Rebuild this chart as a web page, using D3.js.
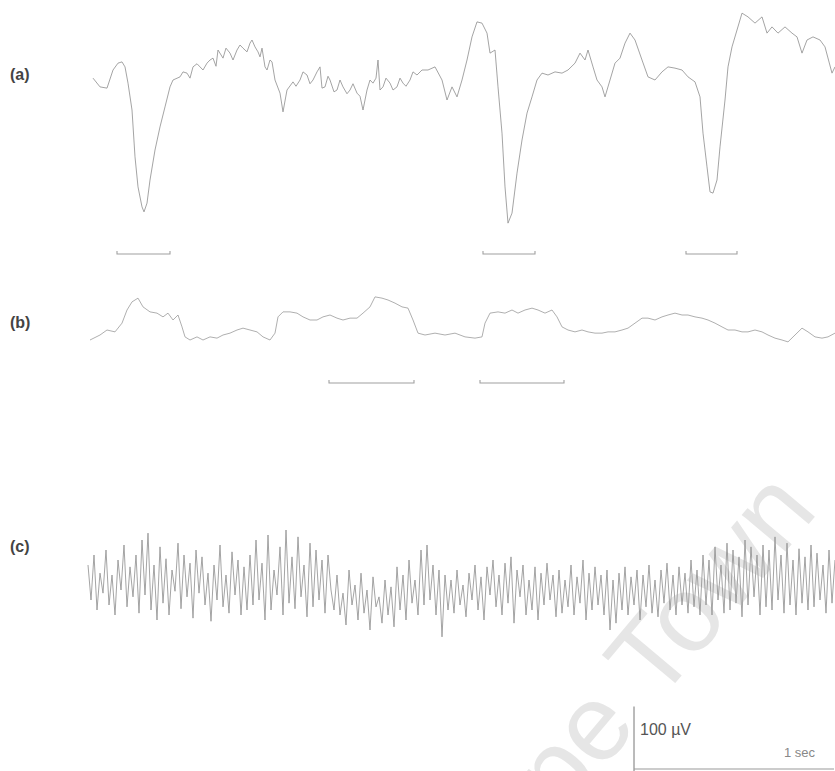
<!DOCTYPE html>
<html><head><meta charset="utf-8">
<script src="https://cdn.jsdelivr.net/npm/d3@7"></script>
<style>html,body{margin:0;padding:0;background:#fff;}svg{display:block;}</style>
</head><body>
<script>
// ---- Data (time in ms, amplitude in µV) ----
const panelLabels = ["(a)", "(b)", "(c)"];

const traceA = [
[25,3],[60,-11],[95,-13],[125,16],[150,27],[170,29],[185,21],[200,-5],[220,-48],[235,-123],[250,-171],[270,-203],[280,-211],[295,-197],[310,-160],[335,-112],[360,-75],[385,-43],[410,-11],[425,0],[460,5],[475,13],[495,11],[510,3],[525,21],[545,26],[560,21],[575,16],[595,27],[610,32],[625,35],[640,22],[650,48],[675,35],[690,51],[710,43],[725,32],[745,48],[760,56],[775,51],[795,45],[810,59],[820,64],[835,53],[850,45],[860,37],[870,51],[885,21],[895,16],[910,32],[920,29],[935,0],[960,-21],[975,-51],[995,-16],[1025,-3],[1040,-10],[1060,0],[1075,13],[1095,8],[1110,-6],[1125,0],[1145,13],[1160,21],[1170,-13],[1185,-11],[1200,6],[1210,0],[1230,-19],[1245,-16],[1260,0],[1275,-11],[1295,-22],[1310,-16],[1325,-6],[1345,-21],[1360,-26],[1375,-48],[1395,-16],[1410,0],[1425,-5],[1440,3],[1450,32],[1460,-16],[1475,-11],[1490,3],[1510,-5],[1525,-16],[1545,-11],[1560,3],[1575,-5],[1590,-10],[1610,0],[1625,13],[1645,8],[1670,16],[1700,16],[1735,21],[1770,0],[1795,-32],[1820,-11],[1845,-27],[1870,0],[1895,32],[1920,69],[1945,93],[1970,91],[1995,75],[2010,43],[2035,48],[2050,-11],[2070,-85],[2085,-171],[2100,-229],[2120,-213],[2145,-149],[2170,-96],[2195,-53],[2220,-27],[2245,0],[2270,11],[2300,8],[2335,13],[2370,11],[2400,16],[2435,27],[2460,43],[2485,32],[2500,48],[2525,21],[2545,0],[2570,-11],[2585,-27],[2610,0],[2635,27],[2660,35],[2685,59],[2710,75],[2735,64],[2770,32],[2800,5],[2835,0],[2870,13],[2900,21],[2935,19],[2970,16],[3000,5],[3035,-3],[3060,-27],[3075,-85],[3095,-139],[3110,-179],[3125,-181],[3145,-160],[3160,-107],[3185,-32],[3200,21],[3220,53],[3245,80],[3270,107],[3300,101],[3335,91],[3370,101],[3395,75],[3420,85],[3450,75],[3485,85],[3520,75],[3545,69],[3570,43],[3595,64],[3625,69],[3660,64],[3685,53],[3720,11],[3735,21]
];

const traceB = [
[10,-24],[60,-16],[95,-8],[135,-11],[170,3],[195,24],[220,37],[250,43],[275,29],[310,21],[345,19],[375,13],[400,19],[425,8],[450,16],[470,-3],[485,-19],[510,-24],[545,-19],[575,-24],[610,-19],[645,-21],[675,-16],[710,-13],[745,-8],[775,-5],[810,-8],[845,-11],[875,-19],[910,-24],[935,-13],[950,13],[975,21],[1010,21],[1045,19],[1075,13],[1110,8],[1145,8],[1175,13],[1210,16],[1245,11],[1275,8],[1310,11],[1345,11],[1375,19],[1410,29],[1435,45],[1470,43],[1500,40],[1535,35],[1570,29],[1600,27],[1625,8],[1650,-13],[1685,-16],[1735,-13],[1785,-16],[1835,-13],[1885,-19],[1935,-21],[1970,-19],[1985,3],[2010,19],[2050,21],[2085,19],[2120,24],[2150,19],[2185,24],[2220,27],[2250,24],[2285,19],[2320,24],[2345,13],[2370,-3],[2400,-8],[2435,-11],[2470,-8],[2500,-11],[2535,-13],[2570,-13],[2600,-11],[2635,-11],[2670,-8],[2700,-5],[2735,3],[2770,11],[2800,11],[2835,8],[2870,13],[2900,16],[2935,19],[2970,16],[3000,16],[3035,13],[3070,11],[3100,8],[3135,3],[3170,-3],[3200,-8],[3235,-8],[3270,-11],[3300,-11],[3335,-8],[3370,-11],[3400,-16],[3435,-21],[3470,-24],[3500,-27],[3535,-16],[3570,-5],[3600,-11],[3635,-19],[3670,-21],[3700,-19],[3735,-13]
];

// trace (c): sampled every 15 ms starting at 0 ms
const stepC = 15;
const traceC = [
32,-24,48,-40,19,-13,56,-32,16,-48,40,-8,64,-35,29,-19,48,-45,72,-16,83,-40,32,-56,
61,-29,42,-48,24,-10,67,-38,48,-19,35,-53,56,-13,45,-32,19,-58,32,-24,64,-35,16,-45,53,-16,40,-48,29,-40,
48,-32,72,-24,35,-56,80,-40,24,-16,61,-48,88,-29,45,-38,77,-19,32,-51,67,-35,56,-24,40,-45,48,
-8,-40,16,-48,-13,-64,24,-32,0,-56,19,-45,-8,-72,13,-35,-19,-61,8,-48,-3,-67,29,-40,16,-56,40,-29,8,-48,
56,-32,64,-24,32,-48,24,-83,16,-40,
8,-45,24,-32,0,-51,19,-24,32,-40,13,-56,29,-16,40,-35,16,-48,35,-29,45,-61,24,-19,32,-48,8,-40,29,-56,19,-32,35,-24,16,-51,24,-45,8,-35,32,-48,13,-29,40,-56,19,-40,29,-32,
16,-48,24,-72,8,-61,19,-40,29,-48,13,-32,24,-56,16,-35,32,-45,8,-51,24,-29,35,-40,16,-48,29,-32,19,-45,40,-35,24,-48,
48,-32,40,-48,61,-24,32,-45,67,-40,56,-29,45,-51,72,-32,61,-19,48,-48,64,-35,56,-40,77,-24,48,-45,67,-32,40,-48,58,-29,45,-40,64,-35,51,-24,32,-45,56,-29,40
];

// event markers [start ms, end ms]
const markersA = [[145,410],[1975,2235],[2990,3245]];
const markersB = [[1205,1630],[1960,2380]];

// calibration
const calAmp = 100;   // µV
const calTime = 1000; // ms
const calStart = 2730; // ms

// ---- Layout ----
const W = 835, H = 771;
const svg = d3.select("body").append("svg").attr("width", W).attr("height", H);

const x = d3.scaleLinear().domain([0, 3735]).range([88, 835]);
const k = 0.625; // px per µV
const yFor = base => d3.scaleLinear().domain([-100, 100]).range([base + 100 * k, base - 100 * k]);
const yA = yFor(80), yB = yFor(325), yC = yFor(585);

// watermark
svg.append("text")
  .attr("transform", "translate(562,818) rotate(-50)")
  .attr("font-family", "Liberation Sans, Arial, sans-serif")
  .attr("font-size", 108)
  .attr("fill", "#e6e6e6")
  .text("pe Town");

const lineGen = (ys) => d3.line().x(d => x(d[0])).y(d => ys(d[1]));

svg.append("path").datum(traceA).attr("d", lineGen(yA))
  .attr("fill", "none").attr("stroke", "#939393").attr("stroke-width", 0.85);
svg.append("path").datum(traceB).attr("d", lineGen(yB))
  .attr("fill", "none").attr("stroke", "#a0a0a0").attr("stroke-width", 0.85);
svg.append("path").datum(traceC.map((v, i) => [i * stepC, v])).attr("d", lineGen(yC))
  .attr("fill", "none").attr("stroke", "#949494").attr("stroke-width", 0.85);

// markers
function markers(data, yPos) {
  data.forEach(m => {
    const x0 = x(m[0]), x1 = x(m[1]);
    svg.append("path")
      .attr("d", `M${x0},${yPos - 3}L${x0},${yPos}L${x1},${yPos}L${x1},${yPos - 3}`)
      .attr("fill", "none").attr("stroke", "#a0a0a0").attr("stroke-width", 1.1);
  });
}
markers(markersA, 254);
markers(markersB, 383);

// labels
const labelY = [80, 328, 552];
panelLabels.forEach((t, i) => {
  svg.append("text").attr("x", 10).attr("y", labelY[i])
    .attr("font-family", "Liberation Sans, Arial, sans-serif")
    .attr("font-size", 16).attr("font-weight", "bold").attr("fill", "#444")
    .text(t);
});

// calibration bars
const yCal = d3.scaleLinear().domain([0, 100]).range([769, 769 - 100 * k]);
const cx0 = x(calStart), cx1 = x(calStart + calTime);
svg.append("line").attr("x1", cx0).attr("x2", cx0).attr("y1", yCal(calAmp)).attr("y2", H)
  .attr("stroke", "#777").attr("stroke-width", 1);
svg.append("line").attr("x1", cx0).attr("x2", cx1).attr("y1", yCal(0)).attr("y2", yCal(0))
  .attr("stroke", "#999").attr("stroke-width", 1);
svg.append("text").attr("x", cx0 + 6).attr("y", 735)
  .attr("font-family", "Liberation Sans, Arial, sans-serif").attr("font-size", 16)
  .attr("fill", "#555").text("100 µV");
svg.append("text").attr("x", 784).attr("y", 757)
  .attr("font-family", "Liberation Sans, Arial, sans-serif").attr("font-size", 13)
  .attr("fill", "#888").text("1 sec");
</script>
</body></html>
